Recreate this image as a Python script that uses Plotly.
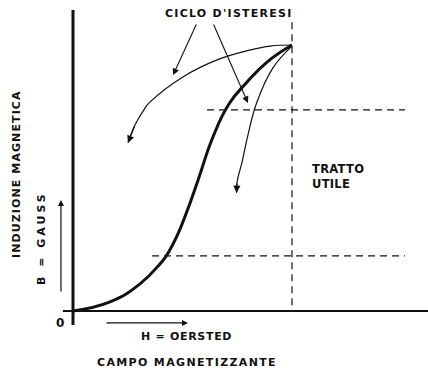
import plotly.graph_objects as go

# Magnetisation curve, normalised so the saturation point is H = 1, B = 1
main_H = [0.0, 0.169, 0.306, 0.397, 0.429, 0.475, 0.521, 0.571, 0.639, 0.712, 0.795, 0.886, 1.0]
main_B = [0.0, 0.034, 0.102, 0.177, 0.211, 0.282, 0.376, 0.492, 0.654, 0.778, 0.861, 0.936, 1.0]

# Hysteresis loop branches returning from saturation
upper_H = [1.0, 0.900, 0.808, 0.658, 0.502, 0.352, 0.329, 0.283, 0.251]
upper_B = [1.0, 0.996, 0.981, 0.944, 0.880, 0.786, 0.763, 0.699, 0.632]
lower_H = [1.0, 0.913, 0.840, 0.799, 0.772, 0.749, 0.747]
lower_B = [0.996, 0.914, 0.786, 0.662, 0.560, 0.485, 0.444]

# Limits of the useful (linear) section
useful_B = [0.207, 0.756]
useful_start_H = [0.361, 0.612]
useful_end_H = 1.516
sat_H = 1.0
sat_top_B = 1.086

# Label pointer lines: (start H, start B, tip H, tip B)
pointers = [(0.566, 1.083, 0.457, 0.887), (0.639, 1.083, 0.799, 0.782)]

X_RANGE = [-0.3333, 1.621]
Y_RANGE = [-0.2256, 1.1692]
W, H = 428, 371

INK = "#111111"
FONT = dict(family="DejaVu Sans", color=INK, weight="bold")

fig = go.Figure()

def line(xs, ys, width, dash=None, smoothing=0.8):
    fig.add_trace(go.Scatter(x=xs, y=ys, mode="lines",
                             line=dict(color=INK, width=width, dash=dash, shape="spline", smoothing=smoothing),
                             hoverinfo="skip"))

def arrow(x0, y0, x1, y1, width=1.2, head=2, size=1.0):
    fig.add_annotation(x=x1, y=y1, ax=x0, ay=y0, xref="x", yref="y", axref="x", ayref="y",
                       text="", showarrow=True, arrowhead=head, arrowsize=size,
                       arrowwidth=width, arrowcolor=INK, standoff=0, startstandoff=0)

# axes
line([0, 0], [1.132, -0.053], 3)
line([-0.046, 1.621], [0, 0], 2.2)

# dashed guides
dash = "7px,5px"
line([sat_H, sat_H], [sat_top_B, 0], 1.2, dash)
for b, h0 in zip(useful_B, useful_start_H):
    line([h0, useful_end_H], [b, b], 1.2, dash)

# curves
line(main_H, main_B, 3, smoothing=1.3)
line(upper_H, upper_B, 1.2, smoothing=1.2)
line(lower_H, lower_B, 1.2, smoothing=1.2)
arrow(upper_H[-2], upper_B[-2], upper_H[-1], upper_B[-1], 1.2, 2, 1.2)
arrow(lower_H[-2], lower_B[-2], lower_H[-1], lower_B[-1], 1.2, 2, 1.2)

# pointers from the loop label
for x0, y0, x1, y1 in pointers:
    arrow(x0, y0, x1, y1, 1.1, 2, 1.2)

# axis direction arrows
arrow(-0.055, 0.068, -0.055, 0.417, 1.2, 2, 1.0)
arrow(0.146, -0.045, 0.525, -0.045, 1.2, 2, 1.0)

def text(s, px, py, size=11, spacing=1.0, angle=0, align="center", xanchor="center"):
    lines = [f'<span style="letter-spacing:{spacing}px">{t}</span>' for t in s.split("\n")]
    fig.add_annotation(x=px / W, y=1 - py / H, xref="paper", yref="paper", text="<br>".join(lines),
                       showarrow=False, textangle=angle, align=align, xanchor=xanchor,
                       yanchor="middle", font=dict(size=size, **FONT))

text("CICLO D'ISTERESI", 229, 13, 11, 1.25)
text("TRATTO\nUTILE", 310, 176, 11.5, 0.3, align="left", xanchor="left")
text("INDUZIONE MAGNETICA", 17, 174, 11, 1.1, angle=-90)
text("B = GAUSS", 41, 238, 11, 3.0, angle=-90)
text("0", 60, 323, 12, 0)
text("H = OERSTED", 186, 336, 11, 0.7)
text("CAMPO MAGNETIZZANTE", 187, 362, 11, 1.35)

fig.update_layout(
    width=W, height=H, margin=dict(l=0, r=0, t=0, b=0),
    paper_bgcolor="white", plot_bgcolor="white", showlegend=False,
    xaxis=dict(range=X_RANGE, visible=False, fixedrange=True),
    yaxis=dict(range=Y_RANGE, visible=False, fixedrange=True),
)

fig.write_html("out.html", config={"displayModeBar": False})
